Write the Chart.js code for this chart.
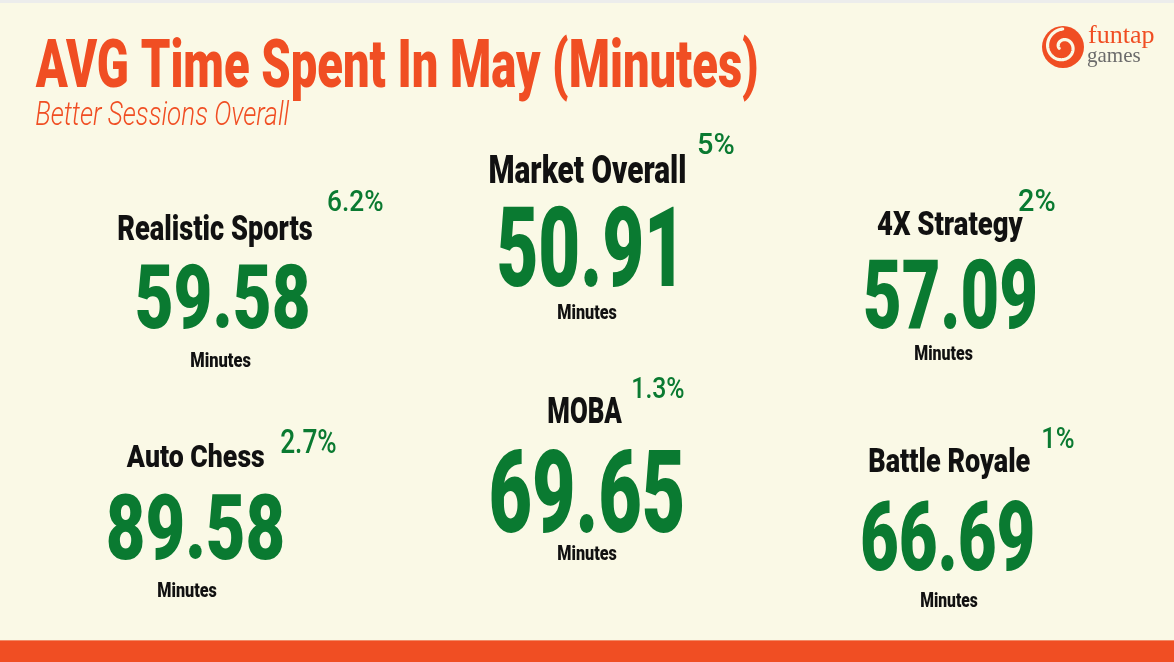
<!DOCTYPE html>
<html><head><meta charset="utf-8">
<script src="https://cdn.jsdelivr.net/npm/chart.js@4"></script>
<style>html,body{margin:0;padding:0;background:#FAF9E6;overflow:hidden}#wrap{width:1174px;height:662px;position:relative}</style>
</head><body><div id="wrap"><canvas id="c" width="1174" height="662"></canvas></div>
<script>
// ---- data ----
const categories = ['Realistic Sports', 'Market Overall', '4X Strategy', 'Auto Chess', 'MOBA', 'Battle Royale'];
const avgMinutes = [59.58, 50.91, 57.09, 89.58, 69.65, 66.69];
const growthPct = [6.2, 5, 2, 2.7, 1.3, 1];
const unitLabel = 'Minutes';
const titleText = 'AVG Time Spent In May (Minutes)';
const subtitleText = 'Better Sessions Overall';
const brandTop = 'funtap';
const brandBottom = 'games';

// ---- layout (boxes in page units: [left, right, capTop, baseline]) ----
const cardLayout = [
  {label:[118,312,215,240], pct:[328,383,190,211], num:[137,308,265,328], unit:[191,251,352,367]},
  {label:[490,685,155,183], pct:[698,734,133,154], num:[499,674,207,286], unit:[558,617,304,319]},
  {label:[877,1023,212,235], pct:[1019,1055,189,211], num:[865,1035,259,328], unit:[915,973,345,360]},
  {label:[126,264,445,467], pct:[281,336,430,453], num:[108,283,494,559], unit:[158,217,582,597]},
  {label:[548,622,397,423], pct:[633,684,377,398], num:[491,682,450,532], unit:[558,617,545,560]},
  {label:[869,1030,448,472], pct:[1043,1074,427,448], num:[862,1033,502,570], unit:[921,978,592,607]}
];
const titleBox = [35,757,40,87];
const subtitleBox = [36,290,102,125];

const COL_BG = '#FAF9E6', COL_ORANGE = '#F04E23', COL_GREEN = '#0A7A31', COL_TEXT = '#111111';
const CAP = 0.711;

function fitText(chart, text, weight, style, box, color) {
  const ctx = chart.ctx, xs = chart.scales.x, ys = chart.scales.y;
  const x1 = xs.getPixelForValue(box[0]), x2 = xs.getPixelForValue(box[1]);
  const top = ys.getPixelForValue(box[2]), base = ys.getPixelForValue(box[3]);
  const size = (base - top) / CAP;
  ctx.save();
  ctx.font = `${style} ${weight} ${size}px Roboto`;
  ctx.textBaseline = 'alphabetic';
  ctx.textAlign = 'left';
  const m = ctx.measureText(text);
  const ink = m.actualBoundingBoxLeft + m.actualBoundingBoxRight;
  const sx = (x2 - x1) / ink;
  ctx.translate(x1, base);
  ctx.scale(sx, 1);
  ctx.fillStyle = color;
  ctx.fillText(text, m.actualBoundingBoxLeft, 0);
  ctx.restore();
}

const infographic = {
  id: 'infographic',
  beforeDraw(chart) {
    const ctx = chart.ctx, xs = chart.scales.x, ys = chart.scales.y;
    const W = chart.width, H = chart.height;
    ctx.save();
    ctx.fillStyle = COL_BG; ctx.fillRect(0, 0, W, H);
    ctx.fillStyle = '#ECEDEC'; ctx.fillRect(0, 0, W, ys.getPixelForValue(3));
    ctx.fillStyle = COL_ORANGE;
    const by = ys.getPixelForValue(640);
    ctx.fillRect(0, by, W, H - by);
    ctx.fillStyle = '#F28A66'; ctx.fillRect(0, by, W, 1);
    ctx.restore();
  },
  afterDraw(chart) {
    const ctx = chart.ctx, xs = chart.scales.x, ys = chart.scales.y;
    fitText(chart, titleText, 900, 'normal', titleBox, COL_ORANGE);
    fitText(chart, subtitleText, 300, 'italic', subtitleBox, COL_ORANGE);
    categories.forEach((name, i) => {
      const L = cardLayout[i];
      fitText(chart, name, 900, 'normal', L.label, COL_TEXT);
      fitText(chart, growthPct[i] + '%', 500, 'normal', L.pct, COL_GREEN);
      fitText(chart, avgMinutes[i].toFixed(2), 900, 'normal', L.num, COL_GREEN);
      fitText(chart, unitLabel, 900, 'normal', L.unit, COL_TEXT);
    });
    // logo
    const cx = xs.getPixelForValue(1063), cy = ys.getPixelForValue(47);
    ctx.save();
    ctx.fillStyle = COL_ORANGE;
    ctx.beginPath(); ctx.arc(cx, cy, 21, 0, Math.PI * 2); ctx.fill();
    ctx.strokeStyle = COL_BG; ctx.lineWidth = 3.2; ctx.lineCap = 'round';
    ctx.beginPath();
    const turns = 2.6 * Math.PI;
    for (let t = 0; t <= turns; t += 0.05) {
      const r = 4 + 14 * t / turns;
      const a = t + Math.PI * 0.9;
      const px = cx + r * Math.cos(a), py = cy + r * Math.sin(a);
      if (t === 0) ctx.moveTo(px, py); else ctx.lineTo(px, py);
    }
    ctx.stroke();
    ctx.font = '26px "Liberation Serif"';
    ctx.fillStyle = COL_ORANGE; ctx.textBaseline = 'alphabetic';
    ctx.fillText(brandTop, xs.getPixelForValue(1088), ys.getPixelForValue(43));
    ctx.font = '21px "Liberation Serif"';
    ctx.fillStyle = '#6B6B6B';
    ctx.fillText(brandBottom, xs.getPixelForValue(1087), ys.getPixelForValue(62));
    ctx.restore();
  }
};

new Chart(document.getElementById('c'), {
  type: 'scatter',
  data: { datasets: [{ data: [] }] },
  options: {
    responsive: false, animation: false, events: [],
    devicePixelRatio: 1,
    layout: { padding: 0 },
    plugins: { legend: { display: false }, tooltip: { enabled: false } },
    scales: {
      x: { type: 'linear', min: 0, max: 1174, display: false },
      y: { type: 'linear', min: 0, max: 662, reverse: true, display: false }
    }
  },
  plugins: [infographic]
});
</script>
</body></html>
